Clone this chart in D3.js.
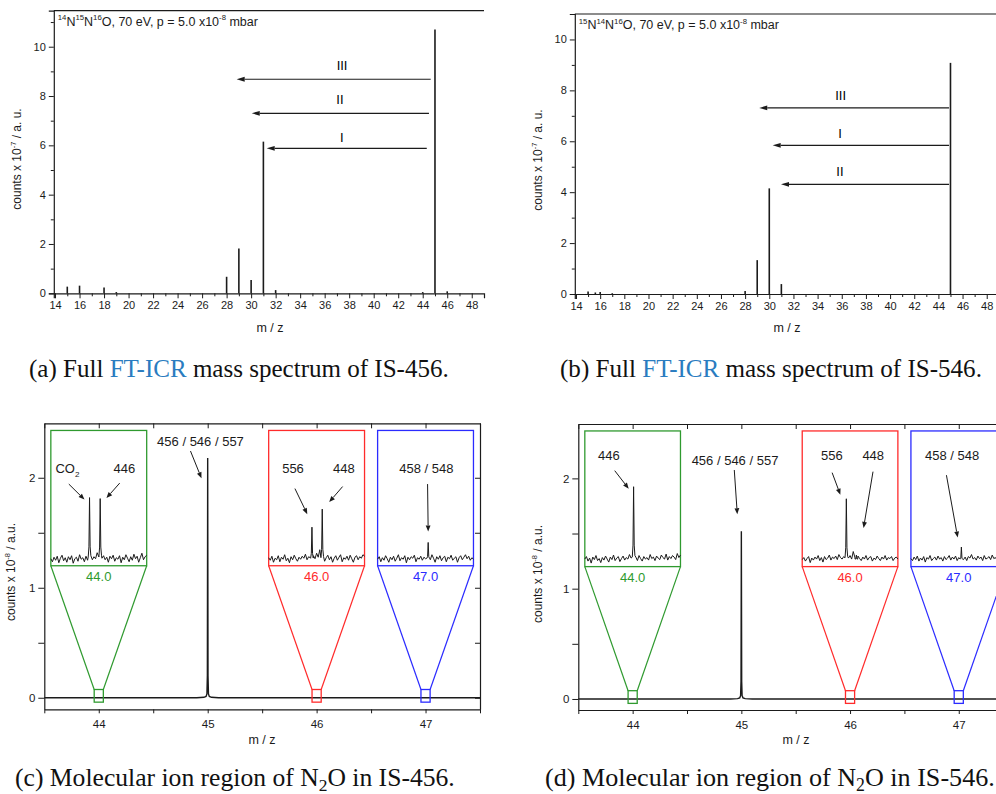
<!DOCTYPE html>
<html>
<head>
<meta charset="utf-8">
<script src="https://cdn.jsdelivr.net/npm/d3@7"></script>
<style>
  html, body { margin: 0; padding: 0; background: #fff; }
  svg { display: block; }
</style>
</head>
<body>
<script>
// ---------------- data ----------------
// (a) full spectrum of IS-456, stick intensities in counts x 1e-7
const stickMzA     = [15, 16, 18, 19, 28, 29, 30, 31, 32, 44, 45, 46];
const stickCountsA = [0.27, 0.31, 0.24, 0.05, 0.67, 1.82, 0.54, 6.15, 0.13, 0.05, 10.7, 0.08];
// (b) full spectrum of IS-546
const stickMzB     = [15, 15.6, 16, 17, 28, 29, 30, 31, 45];
const stickCountsB = [0.10, 0.06, 0.08, 0.03, 0.12, 1.33, 4.15, 0.39, 9.08];

// fragmentation channels: arrow level (counts), start / end m/z, label anchor
const channelLabels = ["III", "II", "I"];
const channelLevelA = [8.68, 7.30, 5.88];
const channelFromA  = [44.65, 44.51, 44.33];
const channelToA    = [28.82, 30.05, 31.27];
const channelTextMzA = [37.42, 37.25, 37.39];
const channelTextYA  = [9.26, 7.88, 6.34];

const channelLabelsB = ["III", "I", "II"];
const channelLevelB = [7.31, 5.84, 4.31];
const channelFromB  = [44.88, 44.88, 44.88];
const channelToB    = [29.17, 30.28, 30.97];
const channelTextMzB = [35.91, 35.85, 35.85];
const channelTextYB  = [7.79, 6.33, 4.81];

const xTicksFull = d3.range(14, 49, 1);
const yTicksFull = d3.range(0, 12, 1);

// (c)/(d) molecular ion region, counts x 1e-8
const mainMz      = [43.5, 44.9, 44.965, 44.985, 44.993, 44.997, 45.0, 45.003, 45.007, 45.015, 45.035, 45.1, 47.5];
const mainCountsC = [0, 0, 0.004, 0.012, 0.035, 0.2, 2.18, 0.2, 0.035, 0.012, 0.004, 0, 0];
const mainCountsD = [0, 0, 0.003, 0.010, 0.030, 0.16, 1.52, 0.16, 0.030, 0.010, 0.003, 0, 0];
const xTicksZoom  = [43.5, 44, 44.5, 45, 45.5, 46, 46.5, 47, 47.5];
const yTicksZoom  = [0, 0.5, 1, 1.5, 2];

// magnified windows
const windowCenters = [44.0, 46.0, 47.0];
const windowLabels  = ["44.0", "46.0", "47.0"];
const windowColors  = ["#2f9a2f", "#ff2b2b", "#2b2bff"];

// baseline noise inside each window (samples evenly across +-0.04 m/z), relative units
const noiseC = [
  [0.04,-0.02,0.07,0.01,0.09,-0.04,0.05,0.11,0.00,0.06,-0.03,0.08,0.02,0.10,-0.05,0.04,0.07,-0.01,0.12,0.03,0.06,-0.02,0.09,0.01,0.05,0.13,0.02,0.08,0.04,0.16,0.06,0.20,0.05,0.10,0.02,0.07,-0.03,0.09,0.04,0.11,-0.01,0.06,0.03,0.10,-0.04,0.07,0.02,0.12,0.05,-0.02,0.08,0.01,0.13,0.04,0.09,-0.03,0.06,0.15,0.02,0.08,0.11],
  [0.06,0.01,0.09,-0.03,0.05,0.02,0.10,-0.02,0.07,0.03,0.12,0.00,0.05,-0.04,0.08,0.02,0.11,0.04,-0.01,0.07,0.03,0.09,0.05,0.13,0.02,0.08,0.06,0.18,0.10,0.04,0.15,0.07,0.22,0.05,0.09,-0.01,0.06,0.11,0.02,0.08,-0.03,0.05,0.10,0.01,0.07,0.12,-0.02,0.06,0.03,0.09,0.01,0.11,0.04,-0.03,0.07,0.10,0.02,0.08,0.05,0.12,0.09],
  [0.03,0.08,-0.02,0.06,0.01,0.10,0.04,-0.03,0.07,0.02,0.09,-0.01,0.05,0.12,0.00,0.06,0.03,0.10,-0.04,0.07,0.02,0.08,0.05,0.11,-0.02,0.06,0.03,0.09,0.01,0.07,0.04,0.10,0.06,0.02,0.12,0.05,-0.03,0.08,0.03,0.10,0.00,0.06,0.09,-0.02,0.07,0.04,0.11,0.01,0.05,0.08,-0.03,0.06,0.10,0.02,0.07,0.12,0.04,0.09,0.01,0.06,0.03]
];
const noiseD = [
  [0.05,0.10,0.01,0.07,-0.03,0.09,0.04,0.12,0.02,0.06,-0.02,0.08,0.03,0.11,0.05,-0.01,0.09,0.04,0.13,0.02,0.07,0.10,0.00,0.06,0.11,0.03,0.08,0.05,0.14,0.07,0.18,0.04,0.09,0.02,0.12,0.06,0.01,0.10,0.05,0.08,0.03,0.14,0.06,0.09,0.02,0.11,0.07,0.04,0.13,0.08,0.05,0.15,0.03,0.10,0.06,0.12,0.09,0.04,0.16,0.08,0.13],
  [0.04,0.08,0.01,0.06,0.10,-0.02,0.07,0.03,0.09,0.05,0.12,0.02,0.08,-0.01,0.10,0.04,0.07,0.13,0.03,0.09,0.06,0.11,0.04,0.14,0.08,0.05,0.10,0.03,0.16,0.07,0.12,0.05,0.20,0.09,0.04,0.11,0.06,0.02,0.09,0.05,0.12,0.03,0.08,0.10,0.01,0.07,0.04,0.11,0.06,0.02,0.09,0.05,0.12,0.03,0.08,0.06,0.10,0.02,0.07,0.09,0.05],
  [0.06,0.02,0.09,0.04,0.11,0.01,0.07,0.03,0.10,-0.01,0.08,0.05,0.12,0.02,0.06,0.09,0.03,0.11,0.05,0.08,0.01,0.10,0.04,0.07,0.12,0.03,0.09,0.05,0.11,0.02,0.08,0.06,0.13,0.04,0.09,0.02,0.10,0.07,0.14,0.05,0.08,0.03,0.11,0.06,0.09,0.02,0.12,0.05,0.07,0.10,0.04,0.13,0.06,0.08,0.03,0.11,0.07,0.09,0.05,0.12,0.08]
];

// peaks inside the windows: window index, m/z, height (relative units)
const insetPeakWinC = [0, 0, 1, 1, 2];
const insetPeakMzC  = [43.9923, 44.0012, 45.9961, 46.0047, 47.0022];
const insetPeakHC   = [1.26, 1.24, 0.67, 1.03, 0.365];
const insetPeakWinD = [0, 1, 1, 2];
const insetPeakMzD  = [44.0008, 45.9969, 46.0053, 47.0022];
const insetPeakHD   = [1.49, 1.25, 0.13, 0.29];

// isotopologue labels inside windows: text, text anchor, arrow start -> end (m/z, relative height)
const insetNotesC = [
  { win: 0, text: "CO_{2}", tx: 43.9739, ty: 1.756, ax0: 43.9750, ay0: 1.53, ax1: 43.9881, ay1: 1.22 },
  { win: 0, text: "446",    tx: 44.0214, ty: 1.756, ax0: 44.0175, ay0: 1.55, ax1: 44.0064, ay1: 1.25 },
  { win: 1, text: "556",    tx: 45.9803, ty: 1.756, ax0: 45.9819, ay0: 1.44, ax1: 45.9922, ay1: 0.93 },
  { win: 1, text: "448",    tx: 46.0228, ty: 1.756, ax0: 46.0217, ay0: 1.48, ax1: 46.0105, ay1: 1.17 },
  { win: 2, text: "458 / 548", tx: 47.0007, ty: 1.756, ax0: 47.0017, ay0: 1.53, ax1: 47.0022, ay1: 0.585 }
];
const insetNotesD = [
  { win: 0, text: "446",    tx: 43.9802, ty: 2.03, ax0: 43.9850, ay0: 1.81, ax1: 43.9967, ay1: 1.45 },
  { win: 1, text: "556",    tx: 45.9848, ty: 2.03, ax0: 45.9850, ay0: 1.77, ax1: 45.9919, ay1: 1.33 },
  { win: 1, text: "448",    tx: 46.0194, ty: 2.03, ax0: 46.0192, ay0: 1.79, ax1: 46.0113, ay1: 0.67 },
  { win: 2, text: "458 / 548", tx: 46.9944, ty: 2.03, ax0: 46.9897, ay0: 1.72, ax1: 46.9991, ay1: 0.48 }
];
// main peak label: text position and arrow (m/z, counts)
const mainNoteC = { text: "456 / 546 / 557", tx: 44.934, ty: 2.334, ax0: 44.842, ay0: 2.243, ax1: 44.943, ay1: 1.995 };
const mainNoteD = { text: "456 / 546 / 557", tx: 44.9416, ty: 2.167, ax0: 44.935, ay0: 2.076, ax1: 44.9627, ay1: 1.675 };

// ---------------- drawing ----------------
const W = 996, H = 794;
const INK = "#1b1b1b";
const SANS = "'Liberation Sans', Arial, sans-serif";
const SERIF = "'Liberation Serif', 'Times New Roman', serif";

const svg = d3.select("body").append("svg").attr("width", W).attr("height", H);
svg.append("rect").attr("width", W).attr("height", H).attr("fill", "#fff");

function parseRich(s) {
  const out = [], re = /\^\{([^}]*)\}|_\{([^}]*)\}|([^^_]+)/g;
  let m;
  while ((m = re.exec(s))) {
    if (m[1] !== undefined) out.push({ t: m[1], sup: true });
    else if (m[2] !== undefined) out.push({ t: m[2], sub: true });
    else out.push({ t: m[3] });
  }
  return out;
}
function richText(sel, str, size) {
  let shift = 0;
  parseRich(str).forEach(p => {
    const target = p.sup ? -0.42 * size : p.sub ? 0.32 * size : 0;
    const ts = sel.append("tspan").text(p.t).attr("dy", target - shift);
    if (p.sup || p.sub) ts.attr("font-size", size * 0.62);
    shift = target;
  });
  return sel;
}

function arrow(g, x0, y0, x1, y1, len = 7, half = 2.6, width = 1.1) {
  const a = Math.atan2(y1 - y0, x1 - x0);
  const bx = x1 - len * Math.cos(a), by = y1 - len * Math.sin(a);
  g.append("line").attr("x1", x0).attr("y1", y0).attr("x2", bx).attr("y2", by)
    .attr("stroke", INK).attr("stroke-width", width);
  const px = -Math.sin(a) * half, py = Math.cos(a) * half;
  g.append("path")
    .attr("d", `M${x1},${y1}L${bx + px},${by + py}L${bx - px},${by - py}Z`)
    .attr("fill", INK);
}

function styleAxis(ag, size) {
  ag.attr("font-family", SANS).attr("font-size", size);
  ag.selectAll("text").attr("fill", INK);
  ag.selectAll("line").attr("stroke", INK);
  ag.select(".domain").attr("stroke", INK).attr("stroke-width", 1.2);
}

// ---- full spectra (a), (b) ----
function stickPanel(o) {
  const g = svg.append("g");
  const x = d3.scaleLinear().domain(o.xDomain).range(o.xRange);
  const y = d3.scaleLinear().domain(o.yDomain).range(o.yRange);

  g.append("line").attr("x1", o.xRange[0]).attr("x2", o.xRange[1])
    .attr("y1", o.yRange[1]).attr("y2", o.yRange[1]).attr("stroke", INK).attr("stroke-width", 1.2);

  const yg = g.append("g").attr("transform", `translate(${o.xRange[0]},0)`)
    .call(d3.axisLeft(y).tickValues(yTicksFull).tickFormat(d => d % 2 === 0 ? d : "")
      .tickSizeOuter(0).tickSize(5).tickPadding(3));
  yg.selectAll(".tick").filter(d => d % 2 !== 0).select("line").attr("x2", -3);
  styleAxis(yg, 11);

  const xg = g.append("g").attr("transform", `translate(0,${y(0)})`)
    .call(d3.axisBottom(x).tickValues(xTicksFull).tickFormat(d => d % 2 === 0 ? d : "")
      .tickSizeOuter(0).tickSize(5).tickPadding(3));
  xg.selectAll(".tick").filter(d => d % 2 !== 0).select("line").attr("y2", 3);
  styleAxis(xg, 11);

  g.append("g").selectAll("line").data(o.mz).join("line")
    .attr("x1", d => x(d)).attr("x2", d => x(d))
    .attr("y1", y(0)).attr("y2", (d, i) => y(o.counts[i]))
    .attr("stroke", INK).attr("stroke-width", 1.6);

  o.labels.forEach((lab, i) => {
    arrow(g, x(o.from[i]), y(o.level[i]), x(o.to[i]), y(o.level[i]), 8, 2.4, 1.2);
    g.append("text").attr("x", x(o.textMz[i])).attr("y", y(o.textY[i])).attr("dy", "0.36em")
      .attr("text-anchor", "middle").attr("font-family", SANS).attr("font-size", 13)
      .attr("fill", "#000").text(lab);
  });

  richText(g.append("text").attr("x", o.xRange[0] + 4).attr("y", o.yRange[1] + 15)
    .attr("font-family", SANS).attr("font-size", 12.5).attr("fill", INK), o.title, 12.5);

  richText(g.append("text").attr("transform", `translate(${o.yLabelX},${o.yLabelY}) rotate(-90)`)
    .attr("text-anchor", "middle").attr("dy", "0.35em")
    .attr("font-family", SANS).attr("font-size", 12).attr("fill", INK), "counts x 10^{-7} / a. u.", 12);

  g.append("text").attr("x", o.xLabelX).attr("y", 332).attr("text-anchor", "middle")
    .attr("font-family", SANS).attr("font-size", 12.5).attr("fill", INK).text("m / z");
}

stickPanel({
  xDomain: [13.9, 49], xRange: [53.8, 484],
  yDomain: [0, 11.46], yRange: [293.3, 10.7],
  mz: stickMzA, counts: stickCountsA,
  labels: channelLabels, level: channelLevelA, from: channelFromA, to: channelToA,
  textMz: channelTextMzA, textY: channelTextYA,
  title: "^{14}N^{15}N^{16}O, 70 eV, p = 5.0 x10^{-8} mbar",
  yLabelX: 21, yLabelY: 159, xLabelX: 270
});
stickPanel({
  xDomain: [13.9, 49], xRange: [574.8, 998.8],
  yDomain: [0, 11], yRange: [294, 14],
  mz: stickMzB, counts: stickCountsB,
  labels: channelLabelsB, level: channelLevelB, from: channelFromB, to: channelToB,
  textMz: channelTextMzB, textY: channelTextYB,
  title: "^{15}N^{14}N^{16}O, 70 eV, p = 5.0 x10^{-8} mbar",
  yLabelX: 542, yLabelY: 160, xLabelX: 787
});

// ---- molecular ion region (c), (d) ----
function zoomPanel(o) {
  const g = svg.append("g");
  const x = d3.scaleLinear().domain([43.5, 47.5]).range(o.xRange);
  const y = d3.scaleLinear().domain(o.yDomain).range(o.yRange);
  const [x0, x1] = o.xRange, [yb, yt] = o.yRange;

  // frame: outward ticks left/bottom, inward ticks top/right
  const topG = g.append("g").attr("transform", `translate(0,${yt})`)
    .call(d3.axisTop(x).tickValues(xTicksZoom).tickFormat("").tickSizeInner(-5).tickSizeOuter(0));
  styleAxis(topG, 11);
  const rightG = g.append("g").attr("transform", `translate(${x1},0)`)
    .call(d3.axisRight(y).tickValues(yTicksZoom).tickFormat("").tickSizeInner(-5).tickSizeOuter(0));
  styleAxis(rightG, 11);
  const leftG = g.append("g").attr("transform", `translate(${x0},0)`)
    .call(d3.axisLeft(y).tickValues(yTicksZoom).tickFormat(d => Number.isInteger(d) ? d : "")
      .tickSize(6).tickSizeOuter(0).tickPadding(3));
  styleAxis(leftG, 11.5);
  const botG = g.append("g").attr("transform", `translate(0,${yb})`)
    .call(d3.axisBottom(x).tickValues(xTicksZoom).tickFormat(d => Number.isInteger(d) ? d : "")
      .tickSize(4).tickSizeOuter(0).tickPadding(7));
  styleAxis(botG, 11.5);

  // main spectrum
  g.append("path").datum(mainMz.map((m, i) => [m, o.counts[i]]))
    .attr("d", d3.line().x(d => x(d[0])).y(d => y(d[1])))
    .attr("fill", "none").attr("stroke", INK).attr("stroke-width", 1.4);

  // magnified windows
  const halfSrc = 0.042, halfBox = 0.44, boxLo = 1.2, boxHi = 2.43;
  windowCenters.forEach((c, w) => {
    const col = windowColors[w];
    const wg = g.append("g");
    wg.append("rect").attr("x", x(c - halfSrc)).attr("y", y(0.075))
      .attr("width", x(c + halfSrc) - x(c - halfSrc)).attr("height", y(-0.04) - y(0.075))
      .attr("fill", "none").attr("stroke", col).attr("stroke-width", 1.3);
    wg.append("line").attr("x1", x(c - halfBox)).attr("y1", y(boxLo))
      .attr("x2", x(c - halfSrc)).attr("y2", y(0.075)).attr("stroke", col).attr("stroke-width", 1.2);
    wg.append("line").attr("x1", x(c + halfBox)).attr("y1", y(boxLo))
      .attr("x2", x(c + halfSrc)).attr("y2", y(0.075)).attr("stroke", col).attr("stroke-width", 1.2);
    wg.append("rect").attr("x", x(c - halfBox)).attr("y", y(boxHi))
      .attr("width", x(c + halfBox) - x(c - halfBox)).attr("height", y(boxLo) - y(boxHi))
      .attr("fill", "#fff").attr("stroke", col).attr("stroke-width", 1.3);
    wg.append("text").attr("x", x(c)).attr("y", y(boxLo) + 15).attr("text-anchor", "middle")
      .attr("font-family", SANS).attr("font-size", 13).attr("fill", col).text(windowLabels[w]);

    // inset spectrum
    const ix = d3.scaleLinear().domain([c - 0.04, c + 0.04]).range([x(c - halfBox), x(c + halfBox)]);
    const iy = d3.scaleLinear().domain([-0.1, 2.6]).range([y(boxLo), y(boxHi)]);
    const peaks = o.peakWin.map((pw, i) => ({ pw, mz: o.peakMz[i], h: o.peakH[i] })).filter(p => p.pw === w);
    const noise = o.noise[w], step = 0.08 / (noise.length - 1);
    const pts = [];
    noise.forEach((v, k) => {
      const m = c - 0.04 + k * step;
      if (!peaks.some(p => Math.abs(p.mz - m) < 0.0012)) pts.push([m, v]);
    });
    const shape = [[-0.0011, 0.06], [-0.0005, 0.22], [0, 1], [0.0005, 0.22], [0.0011, 0.08]];
    peaks.forEach(p => shape.forEach(s => pts.push([p.mz + s[0], Math.max(s[1] * p.h, 0.05)])));
    pts.sort((a, b) => a[0] - b[0]);
    wg.append("path").datum(pts)
      .attr("d", d3.line().x(d => ix(d[0])).y(d => iy(d[1])))
      .attr("fill", "none").attr("stroke", INK).attr("stroke-width", 1);

    o.notes.filter(n => n.win === w).forEach(n => {
      richText(wg.append("text").attr("x", ix(n.tx)).attr("y", iy(n.ty)).attr("dy", "0.36em")
        .attr("text-anchor", "middle").attr("font-family", SANS).attr("font-size", 13).attr("fill", INK),
        n.text, 13);
      arrow(wg, ix(n.ax0), iy(n.ay0), ix(n.ax1), iy(n.ay1), 6, 2.4, 1);
    });
  });

  // main peak label
  const mn = o.mainNote;
  g.append("text").attr("x", x(mn.tx)).attr("y", y(mn.ty)).attr("dy", "0.36em")
    .attr("text-anchor", "middle").attr("font-family", SANS).attr("font-size", 13)
    .attr("fill", INK).text(mn.text);
  arrow(g, x(mn.ax0), y(mn.ay0), x(mn.ax1), y(mn.ay1), 6, 2.4, 1);

  richText(g.append("text").attr("transform", `translate(${o.yLabelX},${o.yLabelY}) rotate(-90)`)
    .attr("text-anchor", "middle").attr("dy", "0.35em")
    .attr("font-family", SANS).attr("font-size", 12).attr("fill", INK), "counts x 10^{-8} / a.u.", 12);
  g.append("text").attr("x", o.xLabelX).attr("y", 744).attr("text-anchor", "middle")
    .attr("font-family", SANS).attr("font-size", 12.5).attr("fill", INK).text("m / z");
}

zoomPanel({
  xRange: [44.3, 480], yDomain: [-0.105, 2.495], yRange: [709.3, 423.3],
  counts: mainCountsC, noise: noiseC,
  peakWin: insetPeakWinC, peakMz: insetPeakMzC, peakH: insetPeakHC,
  notes: insetNotesC, mainNote: mainNoteC,
  yLabelX: 15, yLabelY: 572, xLabelX: 262
});
zoomPanel({
  xRange: [578.3, 1013.1], yDomain: [-0.1, 2.493], yRange: [710, 424],
  counts: mainCountsD, noise: noiseD,
  peakWin: insetPeakWinD, peakMz: insetPeakMzD, peakH: insetPeakHD,
  notes: insetNotesD, mainNote: mainNoteD,
  yLabelX: 542, yLabelY: 574, xLabelX: 796
});

// ---- sub-figure captions ----
function caption(xPos, yPos, width, parts) {
  const t = svg.append("text").attr("x", xPos).attr("y", yPos)
    .attr("font-family", SERIF).attr("font-size", 22).attr("fill", "#111");
  let shift = 0;
  parts.forEach(p => {
    const target = p.sub ? 5 : 0;
    const ts = t.append("tspan").text(p.t).attr("dy", target - shift);
    if (p.blue) ts.attr("fill", "#2a7cc0");
    if (p.sub) ts.attr("font-size", 15);
    shift = target;
  });
  const len = t.node().getComputedTextLength();
  t.attr("font-size", 22 * width / len);
  t.selectAll("tspan").filter(function () { return this.getAttribute("font-size"); })
    .attr("font-size", 15 * width / len);
}
caption(29, 377, 420, [{ t: "(a) Full " }, { t: "FT-ICR", blue: true }, { t: " mass spectrum of IS-456." }]);
caption(560, 377, 422, [{ t: "(b) Full " }, { t: "FT-ICR", blue: true }, { t: " mass spectrum of IS-546." }]);
caption(15, 786, 440, [{ t: "(c) Molecular ion region of N" }, { t: "2", sub: true }, { t: "O in IS-456." }]);
caption(545, 786, 450, [{ t: "(d) Molecular ion region of N" }, { t: "2", sub: true }, { t: "O in IS-546." }]);
</script>
</body>
</html>
